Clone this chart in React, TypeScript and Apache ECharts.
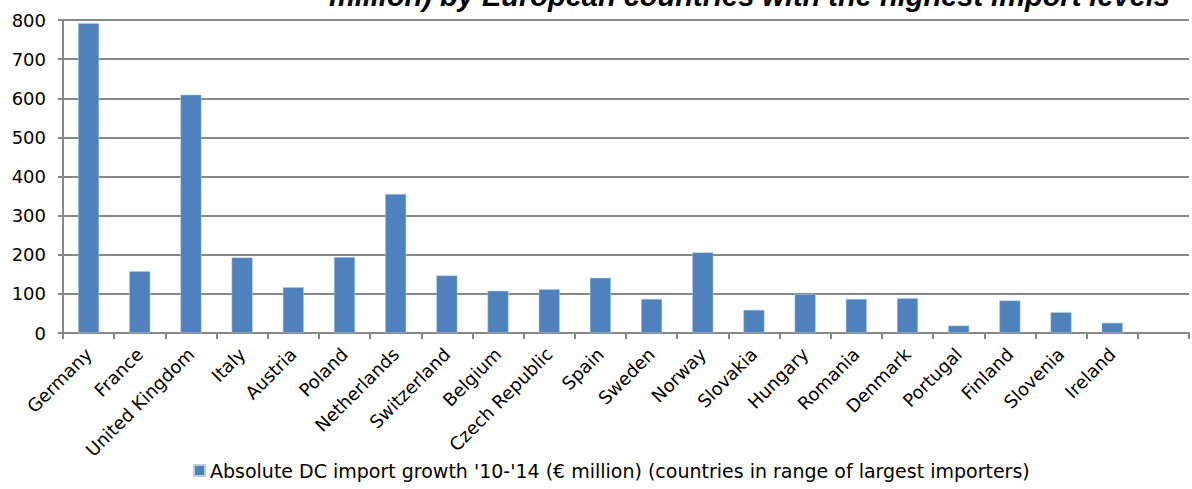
import React, { useEffect, useRef } from "react";
import * as echarts from "echarts";

const categories = [
  "Germany", "France", "United Kingdom", "Italy", "Austria", "Poland", "Netherlands",
  "Switzerland", "Belgium", "Czech Republic", "Spain", "Sweden", "Norway", "Slovakia",
  "Hungary", "Romania", "Denmark", "Portugal", "Finland", "Slovenia", "Ireland", "",
];
const growthValues = [
  792, 158, 609, 193, 117, 194, 355, 147, 108, 112, 141, 87, 206, 59, 99, 87, 89, 19, 83, 53, 26, null,
];
const seriesName =
  "Absolute DC import growth '10-'14 (€ million) (countries in range of largest importers)";
const titleText = "million) by European countries with the highest import levels";
const yTicks = { min: 0, max: 800, interval: 100 };

export default function App() {
  const ref = useRef<HTMLDivElement>(null);
  useEffect(() => {
    const chart = echarts.init(ref.current!, null, { renderer: "svg" });
    const font = "'DejaVu Sans', Verdana, sans-serif";
    chart.setOption({
      animation: false,
      backgroundColor: "#fff",
      title: {
        text: titleText,
        right: 17,
        top: -24,
        textStyle: {
          fontFamily: "'Liberation Sans', Arial, sans-serif",
          fontStyle: "italic",
          fontWeight: "bold",
          fontSize: 29,
          color: "#000",
        },
      },
      grid: { left: 63, right: 3, top: 20, bottom: 156, containLabel: false },
      legend: {
        bottom: 4,
        left: 188,
        icon: "rect",
        itemWidth: 11,
        itemHeight: 11,
        itemGap: 5,
        textStyle: { fontFamily: font, fontSize: 19, color: "#000" },
        data: [seriesName],
      },
      xAxis: {
        type: "category",
        data: categories,
        axisLine: { lineStyle: { color: "#888", width: 2 } },
        axisTick: { show: true, alignWithLabel: false, length: 6, lineStyle: { color: "#888", width: 2 } },
        axisLabel: {
          interval: 0,
          rotate: 45,
          margin: 18,
          fontFamily: font,
          fontSize: 18,
          color: "#000",
        },
      },
      yAxis: {
        type: "value",
        min: yTicks.min,
        max: yTicks.max,
        interval: yTicks.interval,
        axisLine: { show: true, lineStyle: { color: "#888", width: 2 } },
        axisTick: { show: true, length: 5, lineStyle: { color: "#888", width: 2 } },
        splitLine: { lineStyle: { color: "#888", width: 2 } },
        axisLabel: { fontFamily: font, fontSize: 18, color: "#000", margin: 17 },
      },
      series: [
        {
          name: seriesName,
          type: "bar",
          data: growthValues,
          barWidth: 21,
          itemStyle: { color: "#4F81BD", borderColor: "#B9CDE5", borderWidth: 0.5 },
        },
      ],
    });
    return () => chart.dispose();
  }, []);
  return (
    <div
      ref={ref}
      style={{ position: "fixed", left: 0, top: 0, width: 1192, height: 489 }}
    />
  );
}
